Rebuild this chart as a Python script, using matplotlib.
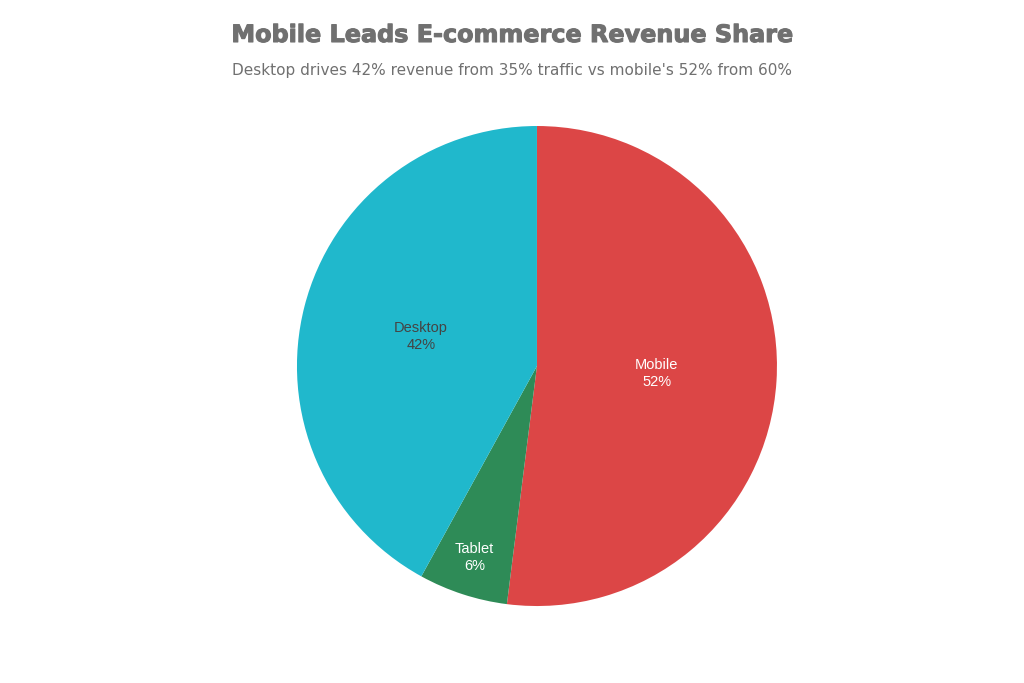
import numpy as np
import matplotlib.pyplot as plt
import matplotlib.patheffects as pe

# Revenue share by device
devices = ["Mobile", "Tablet", "Desktop"]
shares = [52, 6, 42]
colors = ["#DC4646", "#2E8B57", "#20B8CC"]
label_colors = ["white", "white", "#444444"]

fig = plt.figure(figsize=(10.24, 6.83), dpi=100)
ax = fig.add_axes([0.2900, 0.1127, 0.46875, 0.7028])

wedges, _ = ax.pie(shares, colors=colors, startangle=90, counterclock=False,
                   radius=1.0, wedgeprops=dict(linewidth=0))
ax.set_xlim(-1, 1)
ax.set_ylim(-1, 1)
ax.set_aspect("auto")
ax.axis("off")

# labels inside slices, small slices pushed outward
total = sum(shares)
for w, name, val, lc in zip(wedges, devices, shares, label_colors):
    mid = np.deg2rad((w.theta1 + w.theta2) / 2)
    r = 0.84 if val / total < 0.1 else 0.5
    ax.text(r * np.cos(mid), r * np.sin(mid), f"{name}\n{val}%",
            ha="center", va="center", color=lc, fontsize=10.5,
            family="Liberation Sans", linespacing=1.3)

fig.text(0.5, 1 - 35 / 683, "Mobile Leads E-commerce Revenue Share",
         ha="center", va="center", fontsize=17.2, fontweight="bold", color="#707070",
         path_effects=[pe.Stroke(linewidth=0.8, foreground="#737373"), pe.Normal()])
fig.text(0.5, 1 - 70 / 683,
         "Desktop drives 42% revenue from 35% traffic vs mobile's 52% from 60%",
         ha="center", va="center", fontsize=11, color="#707070")

plt.savefig("out.png", dpi=100)
plt.close()
